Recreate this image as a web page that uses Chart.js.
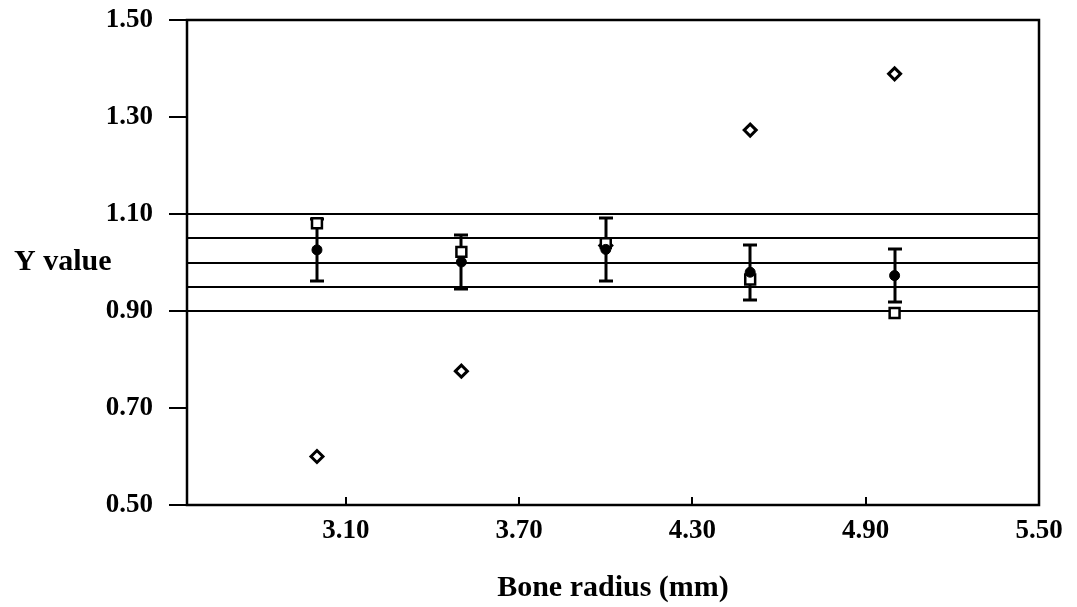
<!DOCTYPE html>
<html>
<head>
<meta charset="utf-8">
<script src="https://cdn.jsdelivr.net/npm/chart.js@4"></script>
<style>
  html, body { margin: 0; padding: 0; background: #fff; }
  #wrap { width: 1077px; height: 607px; }
</style>
</head>
<body>
<div id="wrap"><canvas id="boneChart"></canvas></div>
<script>
// bone radius groups (mm)
const radius = [3.0, 3.5, 4.0, 4.5, 5.0];
// mean Y with +/- error
const meanY = [1.026, 1.001, 1.027, 0.980, 0.973];
const errY = [0.064, 0.056, 0.065, 0.057, 0.055];
// other two series
const squareY = [1.081, 1.022, 1.040, 0.965, 0.896];
const diamondY = [0.600, 0.776, 1.035, 1.273, 1.389];
// horizontal reference levels
const refLines = [1.10, 1.05, 1.00, 0.95, 0.90];
const xTicks = [3.10, 3.70, 4.30, 4.90, 5.50];
const yTicks = [0.50, 0.70, 0.90, 1.10, 1.30, 1.50];

const FONT = 'Liberation Serif';
const tickFont = { family: FONT, size: 27, weight: 'bold' };
const titleFont = { family: FONT, size: 30, weight: 'bold' };

const pts = (ys) => radius.map((r, i) => ({ x: r, y: ys[i] }));

// reference lines, error bars, frame and inner x ticks
const frameAndBars = {
  id: 'frameAndBars',
  beforeDatasetsDraw(chart) {
    const { ctx, chartArea: a, scales: { x, y } } = chart;
    ctx.save();
    ctx.strokeStyle = '#000';
    ctx.lineWidth = 2;
    const seg = (x1, y1, x2, y2) => {
      ctx.beginPath();
      ctx.moveTo(x1, y1);
      ctx.lineTo(x2, y2);
      ctx.stroke();
    };
    refLines.forEach(v => {
      const py = Math.round(y.getPixelForValue(v));
      seg(a.left, py, a.right, py);
    });
    radius.forEach((r, i) => {
      const px = Math.round(x.getPixelForValue(r));
      const hi = Math.round(y.getPixelForValue(meanY[i] + errY[i]));
      const lo = Math.round(y.getPixelForValue(meanY[i] - errY[i]));
      ctx.lineWidth = 3;
      seg(px, hi, px, lo);
      seg(px - 7, hi, px + 7, hi);
      seg(px - 7, lo, px + 7, lo);
    });
    ctx.lineWidth = 2.5;
    ctx.strokeRect(a.left, a.top, a.right - a.left, a.bottom - a.top);
    ctx.lineWidth = 2;
    xTicks.forEach(v => {
      const px = Math.round(x.getPixelForValue(v));
      seg(px, a.bottom, px, a.bottom - 8);
    });
    ctx.fillStyle = '#000';
    ctx.font = 'bold 30px "' + FONT + '"';
    ctx.textAlign = 'left';
    ctx.textBaseline = 'middle';
    ctx.fillText('Y value', 14, (a.top + a.bottom) / 2);
    ctx.restore();
  }
};

new Chart(document.getElementById('boneChart'), {
  type: 'scatter',
  data: {
    datasets: [
      {
        label: 'Mean',
        data: pts(meanY),
        pointStyle: 'circle',
        pointRadius: 5,
        backgroundColor: '#000',
        borderColor: '#000',
        borderWidth: 1
      },
      {
        label: 'Square',
        data: pts(squareY),
        pointStyle: 'rect',
        pointRadius: 7,
        backgroundColor: '#fff',
        borderColor: '#000',
        borderWidth: 2.5
      },
      {
        label: 'Diamond',
        data: pts(diamondY),
        pointStyle: 'rectRot',
        pointRadius: 6,
        backgroundColor: '#fff',
        borderColor: '#000',
        borderWidth: 3
      }
    ]
  },
  options: {
    responsive: true,
    maintainAspectRatio: false,
    animation: false,
    layout: { padding: { left: 0, top: 20, right: 38, bottom: 0 } },
    plugins: {
      legend: { display: false },
      tooltip: { enabled: false }
    },
    scales: {
      x: {
        type: 'linear',
        min: 2.55,
        max: 5.5,
        afterBuildTicks: (s) => { s.ticks = xTicks.map(v => ({ value: v })); },
        afterFit: (s) => { s.height = 102; s.paddingRight = 0; },
        grid: { display: false, drawTicks: false },
        border: { display: false },
        ticks: {
          color: '#000',
          font: tickFont,
          padding: 10,
          maxRotation: 0,
          callback: (v) => Number(v).toFixed(2)
        },
        title: {
          display: true,
          text: 'Bone radius (mm)',
          color: '#000',
          font: titleFont,
          padding: { top: 0, bottom: 1 }
        }
      },
      y: {
        min: 0.5,
        max: 1.5,
        afterBuildTicks: (s) => { s.ticks = yTicks.map(v => ({ value: v })); },
        afterFit: (s) => { s.width = 187; s.paddingTop = 0; s.paddingBottom = 0; },
        grid: {
          drawOnChartArea: false,
          drawTicks: true,
          tickLength: 18,
          color: '#000',
          lineWidth: 2
        },
        border: { display: false },
        ticks: {
          color: '#000',
          font: tickFont,
          padding: 16,
          callback: (v) => Number(v).toFixed(2)
        }
      }
    }
  },
  plugins: [frameAndBars]
});
</script>
</body>
</html>
